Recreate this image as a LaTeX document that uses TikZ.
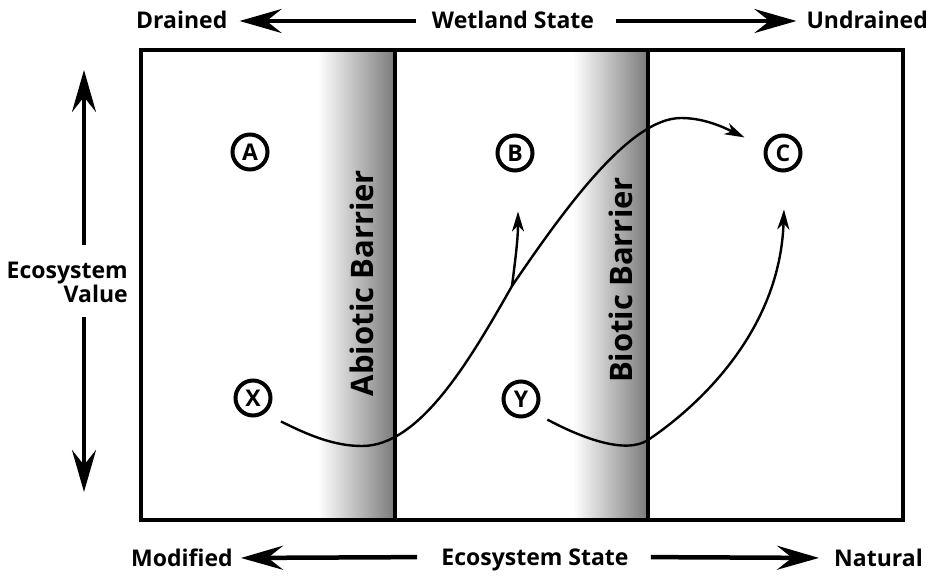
\documentclass[tikz,border=0pt]{standalone}
\usepackage{fontspec}
\setmainfont{Open Sans}
\usetikzlibrary{arrows.meta}
\usetikzlibrary{calc}

\newcommand{\BarrierBand}[5]{
\shade[barrierfill] (#2,\BoxTop) rectangle (#3,\BoxBottom); % gradient band
\node[barrier] (#1) at (#4) {#5}; % rotated caption
}
\newcommand{\BoxTop}{50}
\newcommand{\BoxBottom}{520}

\begin{document}
\begin{tikzpicture}[x=1pt, y=-1pt,
label/.style={inner sep=0, font=\fontsize{23}{21}\selectfont\bfseries, text height=16pt, text depth=0pt},
valuelabel/.style={inner sep=0, align=right, font=\fontsize{23}{21}\selectfont\bfseries},
barrier/.style={inner sep=0, rotate=90, font=\fontsize{31}{31}\selectfont\bfseries},
barrierfill/.style={left color=white, right color=black!52},
state/.style={circle, draw, line width=4pt, minimum size=35pt, inner sep=0, font=\fontsize{23}{23}\selectfont\bfseries},
frame/.style={line width=4pt},
bigarrow/.style={line width=4.5pt, -{Stealth[length=42pt, width=24pt, inset=15pt]}},
flow/.style={line width=2.4pt, -{Stealth[length=20pt, width=12pt, inset=6pt]}},
]
\useasboundingbox (0,0) rectangle (928,575);

%%%%%%%%%%%%%%%%%%%%%%%% BARRIERS %%%%%%%%%%%%%%%%%%%%%%%%
\BarrierBand{abiotic}{318}{395}{362,283}{Abiotic Barrier}
\BarrierBand{biotic}{573}{648}{621,280}{Biotic Barrier}

%%%%%%%%%%%%%%%%%%%%%%%% FRAME %%%%%%%%%%%%%%%%%%%%%%%%
\coordinate (BoxNW) at (141,\BoxTop);
\coordinate (BoxSE) at (903,\BoxBottom);
\draw[frame] (BoxNW) rectangle (BoxSE);
\draw[frame] (395,\BoxTop) -- (395,\BoxBottom);
\draw[frame] (648,\BoxTop) -- (648,\BoxBottom);

%%%%%%%%%%%%%%%%%%%%%%%% STATES %%%%%%%%%%%%%%%%%%%%%%%%
\node[state] (A) at (250,152) {A};
\node[state] (B) at (515,153) {B};
\node[state] (C) at (783,153) {C};
\node[state] (X) at (253,398) {X};
\node[state] (Y) at (521,399) {Y};

%%%%%%%%%%%%%%%%%%%%%%%% PATHWAYS %%%%%%%%%%%%%%%%%%%%%%%%
\coordinate (split) at (512,286);
\draw[flow] ([shift={(-40:17pt)}]X.-40) .. controls (310,436) and (335,446) .. (362,446)
  .. controls (420,446) and (470,360) .. (split)
  .. controls (565,208) and (630,118) .. (681,118)
  .. controls (705,118) and (725,128) .. ([shift={(158:22pt)}]C.158);
\draw[flow] (split) .. controls (515,262) and (518,240) .. ([xshift=3pt, yshift=-39pt]B.south);
\draw[flow] ([shift={(-38:14pt)}]Y.-38) .. controls (580,437) and (625,455) .. (648,440)
  .. controls (700,405) and (780,330) .. ([shift={(-89:37pt)}]C.-89);

%%%%%%%%%%%%%%%%%%%%%%%% AXES %%%%%%%%%%%%%%%%%%%%%%%%
\node[label, anchor=base west] (drained) at (136,29) {Drained};
\node[label, anchor=base] (wetland) at (513,29) {Wetland State};
\node[label, anchor=base east] (undrained) at (928,29) {Undrained};
\draw[bigarrow, shorten <=16pt, shorten >=12pt] (wetland.west) -- (drained.east);
\draw[bigarrow, shorten <=22pt, shorten >=10pt] (wetland.east) -- (undrained.west);

\node[label, anchor=base west] (modified) at (131,566) {Modified};
\node[label, anchor=base] (ecostate) at (535,565) {Ecosystem State};
\node[label, anchor=base east] (natural) at (923,566) {Natural};
\draw[bigarrow, shorten <=24pt, shorten >=8pt] (ecostate.west) -- (modified.east);
\draw[bigarrow, shorten <=22pt, shorten >=15pt] (ecostate.east) -- (natural.west);

\node[valuelabel, anchor=east] (value) at (128,282) {Ecosystem\\Value};
\coordinate (vtop) at (84,70);
\coordinate (vbot) at (84,492);
\draw[bigarrow] ($(value.north -| vtop)+(0,-16)$) -- (vtop);
\draw[bigarrow] ($(value.south -| vbot)+(0,14)$) -- (vbot);

\end{tikzpicture}
\end{document}
